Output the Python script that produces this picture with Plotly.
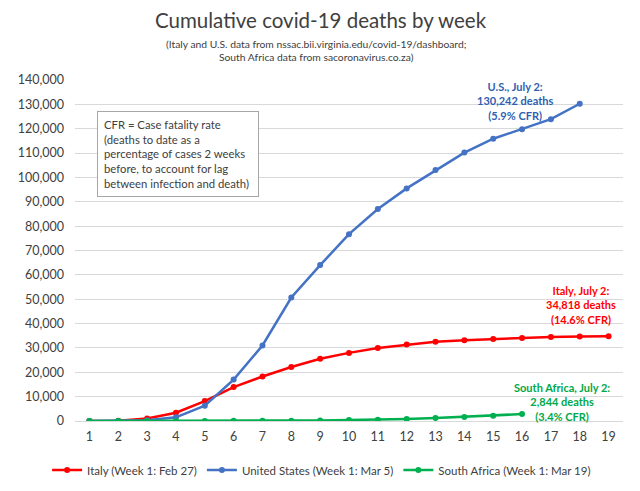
"""
Cumulative covid-19 deaths by week - Italy, U.S., South Africa.
"""
import plotly.graph_objects as go

# Data
weeks = list(range(1, 20))
italy_deaths = [17, 148, 1016, 3405, 8165, 13915, 18279, 22170, 25549, 27967,
                29958, 31368, 32486, 33142, 33689, 34114, 34514, 34708, 34818]
us_deaths = [11, 40, 300, 1500, 6300, 17000, 31000, 50700, 64000, 76700,
             87000, 95500, 103000, 110200, 115900, 119800, 123900, 130242]
sa_deaths = [0, 1, 9, 18, 27, 65, 103, 130, 219, 407,
             552, 792, 1210, 1674, 2205, 2844]

series_names = [
    "Italy (Week 1: Feb 27)",
    "United States (Week 1: Mar 5)",
    "South Africa (Week 1: Mar 19)",
]
series_colors = ["#FF0000", "#4472C4", "#00B050"]

FONT = "Lato, Calibri, Noto Sans, sans-serif"

fig = go.Figure()

for name, ys, color in zip(series_names, [italy_deaths, us_deaths, sa_deaths], series_colors):
    fig.add_trace(go.Scatter(
        x=weeks[:len(ys)],
        y=ys,
        mode='lines+markers',
        name=name,
        line=dict(color=color, width=2.5),
        marker=dict(color=color, size=6),
    ))

# End-point labels
fig.add_annotation(
    x=15.75, y=131500, xref='x', yref='y',
    text="<b>U.S., July 2:<br>130,242 deaths<br>(5.9% CFR)</b>",
    showarrow=False, font=dict(family=FONT, size=11, color="#2F5FB3"),
    align='center',
)
fig.add_annotation(
    x=18.05, y=47600, xref='x', yref='y',
    text="<b>Italy, July 2:<br>34,818 deaths<br>(14.6% CFR)</b>",
    showarrow=False, font=dict(family=FONT, size=11, color="#FF0000"),
    align='center',
)
fig.add_annotation(
    x=17.4, y=7800, xref='x', yref='y',
    text="<b>South Africa, July 2:<br>2,844 deaths<br>(3.4% CFR)</b>",
    showarrow=False, font=dict(family=FONT, size=11, color="#00A847"),
    align='center',
)

# CFR note box
fig.add_annotation(
    x=0.04, y=0.91, xref='paper', yref='paper',
    xanchor='left', yanchor='top',
    text=("CFR = Case fatality rate<br>(deaths to date as a<br>percentage of cases 2 weeks"
          "<br>before, to account for lag<br>between infection and death)"),
    showarrow=False, align='left',
    font=dict(family=FONT, size=11.3, color="#404040"),
    bordercolor="#A6A6A6", borderwidth=1, borderpad=6,
    bgcolor="white", width=148,
)

# Title and subtitle
fig.add_annotation(
    x=0.449, y=1, xref='paper', yref='paper',
    xanchor='center', yanchor='top', yshift=74,
    text="Cumulative covid-19 deaths by week",
    showarrow=False, font=dict(family=FONT, size=20.5, color="#404040"),
)
fig.add_annotation(
    x=0.44, y=1, xref='paper', yref='paper',
    xanchor='center', yanchor='top', yshift=44,
    text=("(Italy and U.S. data from nssac.bii.virginia.edu/covid-19/dashboard;"
          "<br>South Africa data from sacoronavirus.co.za)"),
    showarrow=False, font=dict(family=FONT, size=10.3, color="#404040"),
)

fig.update_layout(
    width=640,
    height=491,
    margin=dict(l=66.5, r=24.5, t=72, b=78, autoexpand=False),
    paper_bgcolor='white',
    plot_bgcolor='white',
    font=dict(family=FONT, size=12.5, color="#404040"),
    showlegend=True,
    legend=dict(
        orientation='h',
        xref='container', x=0.49, xanchor='center',
        yref='container', y=0.059, yanchor='middle',
        font=dict(family=FONT, size=11.5, color="#404040"),
        itemwidth=30,
    ),
    xaxis=dict(
        range=[0.5, 19.5],
        tickmode='array',
        tickvals=weeks,
        showgrid=False,
        zeroline=False,
        showline=False,
        ticks='',
        ticklabelstandoff=6,
        automargin=False,
    ),
    yaxis=dict(
        range=[0, 140000],
        dtick=10000,
        tickformat=',d',
        showgrid=True,
        gridcolor='#D9D9D9',
        gridwidth=1,
        zeroline=True,
        zerolinecolor='#D9D9D9',
        zerolinewidth=1,
        ticks='',
        ticklabelstandoff=10,
        automargin=False,
    ),
)

fig.write_html("out.html")
